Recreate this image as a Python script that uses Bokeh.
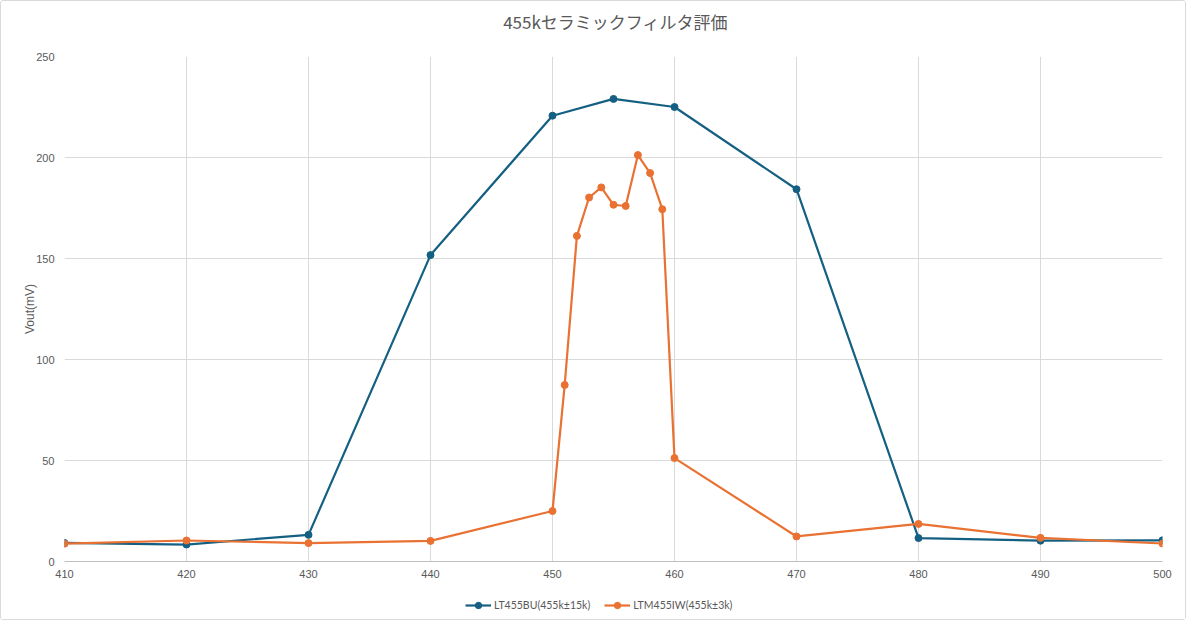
from bokeh.plotting import figure
from bokeh.layouts import column
from bokeh.models import ColumnDataSource, Legend, LegendItem, FixedTicker, Range1d, Label
from bokeh.embed import file_html
from bokeh.resources import INLINE

# Data
freq_bu = [410, 420, 430, 440, 450, 455, 460, 470, 480, 490, 500]
vout_bu = [9.2, 8.4, 13.2, 151.7, 220.7, 229.0, 225.0, 184.3, 11.6, 10.3, 10.5]

freq_iw = [410, 420, 430, 440, 450, 451, 452, 453, 454, 455, 456, 457, 458, 459, 460, 470, 480, 490, 500]
vout_iw = [8.8, 10.4, 9.1, 10.2, 25.0, 87.4, 161.2, 180.2, 185.2, 176.6, 176.0, 201.2, 192.3, 174.4, 51.2, 12.4, 18.6, 11.7, 8.9]

title_text = "455kセラミックフィルタ評価"
y_label = "Vout(mV)"
series_names = ["LT455BU(455k\u00b115k)", "LTM455IW(455k\u00b13k)"]
x_ticks = [410, 420, 430, 440, 450, 460, 470, 480, 490, 500]
y_ticks = [0, 50, 100, 150, 200, 250]

BLUE = "#156082"
ORANGE = "#E97132"
TXT = "#595959"
W = 1184
LEFT = 63
RIGHT = 23

# Header holding the title (its frame is aligned with the main frame)
h = figure(width=W, height=47, output_backend="svg", toolbar_location=None, title=None,
           x_range=Range1d(0, 1), y_range=Range1d(0, 1), x_axis_type=None, y_axis_type=None,
           min_border_left=LEFT, min_border_right=RIGHT, min_border_top=0, min_border_bottom=0)
h.outline_line_color = None
h.xgrid.visible = False
h.ygrid.visible = False
h.add_layout(Label(x=(W - LEFT - RIGHT) / 2 + 2, y=27, x_units="screen", y_units="screen",
                   text=title_text, text_align="center", text_baseline="middle",
                   text_font="Noto Sans CJK JP", text_font_size="17px", text_color=TXT))

p = figure(width=W, height=538, output_backend="svg", toolbar_location=None, title=None,
           x_range=Range1d(410, 500), y_range=Range1d(0, 250),
           min_border_left=LEFT, min_border_right=RIGHT, min_border_top=8, min_border_bottom=25)

p.outline_line_color = None
p.xgrid.ticker = FixedTicker(ticks=x_ticks)
p.ygrid.ticker = FixedTicker(ticks=y_ticks)
p.xgrid.grid_line_color = "#d9d9d9"
p.ygrid.grid_line_color = "#d9d9d9"

p.xaxis.ticker = FixedTicker(ticks=x_ticks)
p.yaxis.ticker = FixedTicker(ticks=y_ticks)
for ax in (p.xaxis[0], p.yaxis[0]):
    ax.major_tick_line_color = None
    ax.minor_tick_line_color = None
    ax.major_tick_in = 0
    ax.major_tick_out = 0
    ax.major_label_text_color = TXT
    ax.major_label_text_font = "Liberation Sans"
    ax.major_label_text_font_size = "11px"
p.xaxis.axis_line_color = "#bfbfbf"
p.yaxis.axis_line_color = None
p.xaxis.major_label_standoff = 8
p.yaxis.major_label_standoff = 10
p.yaxis.axis_label = y_label
p.yaxis.axis_label_text_font = "Liberation Sans"
p.yaxis.axis_label_text_font_size = "12px"
p.yaxis.axis_label_text_font_style = "normal"
p.yaxis.axis_label_text_color = TXT
p.yaxis.axis_label_standoff = -4

src_bu = ColumnDataSource(dict(x=freq_bu, y=vout_bu))
src_iw = ColumnDataSource(dict(x=freq_iw, y=vout_iw))

p.line("x", "y", source=src_bu, line_color=BLUE, line_width=2.2)
p.scatter("x", "y", source=src_bu, size=7, fill_color=BLUE, line_color=BLUE)
p.line("x", "y", source=src_iw, line_color=ORANGE, line_width=2.2)
p.scatter("x", "y", source=src_iw, size=7, fill_color=ORANGE, line_color=ORANGE)

# Footer holding the legend (its copies of the series lie outside its view)
f = figure(width=W, height=33, output_backend="svg", toolbar_location=None, title=None,
           x_range=Range1d(0, 1), y_range=Range1d(0, 1),
           x_axis_type=None, y_axis_type=None,
           min_border_left=LEFT, min_border_right=RIGHT, min_border_top=0, min_border_bottom=0)
f.outline_line_color = None
f.xgrid.visible = False
f.ygrid.visible = False
fl1 = f.line("x", "y", source=src_bu, line_color=BLUE, line_width=2.2)
fc1 = f.scatter("x", "y", source=src_bu, size=7, fill_color=BLUE, line_color=BLUE)
fl2 = f.line("x", "y", source=src_iw, line_color=ORANGE, line_width=2.2)
fc2 = f.scatter("x", "y", source=src_iw, size=7, fill_color=ORANGE, line_color=ORANGE)

legend = Legend(items=[LegendItem(label=series_names[0], renderers=[fl1, fc1]),
                       LegendItem(label=series_names[1], renderers=[fl2, fc2])],
                orientation="horizontal", location=(401, 6),
                label_text_font="Lato", label_text_font_size="10.5px", label_text_color=TXT,
                background_fill_alpha=0, border_line_color=None,
                glyph_width=26, glyph_height=16, spacing=14, label_standoff=3, padding=4, margin=0)
f.add_layout(legend, "center")

layout = column(h, p, f, spacing=0, styles={"border": "1px solid #d9d9d9", "border-radius": "3px"})

open("out.html", "w").write(file_html(layout, INLINE))
